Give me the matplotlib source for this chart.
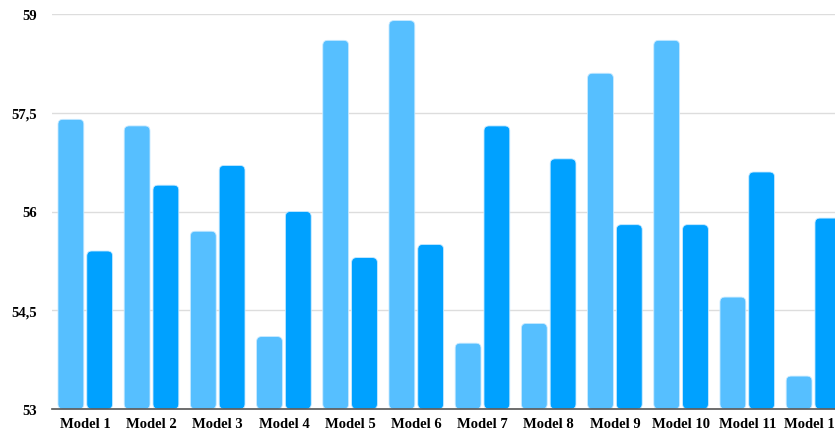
import matplotlib
matplotlib.use("Agg")
import matplotlib.pyplot as plt
from matplotlib.patches import FancyBboxPatch
from matplotlib.ticker import FixedLocator, FuncFormatter
import numpy as np

models = [f"Model {i}" for i in range(1, 13)]
series_a = [57.4, 57.3, 55.7, 54.1, 58.6, 58.9, 54.0, 54.3, 58.1, 58.6, 54.7, 53.5]
series_b = [55.4, 56.4, 56.7, 56.0, 55.3, 55.5, 57.3, 56.8, 55.8, 55.8, 56.6, 55.9]
y_ticks = [53, 54.5, 56, 57.5, 59]

color_a = "#56BFFF"
color_b = "#00A1FF"

W, H, DPI = 835, 435, 100
fig = plt.figure(figsize=(W / DPI, H / DPI), dpi=DPI)
ax = fig.add_axes([52 / W, 25 / H, (W - 52) / W, 395 / H])

x = np.arange(len(models))
bw = 0.39
off = 0.2175
bars_a = ax.bar(x - off, np.array(series_a) - 53, bottom=53, width=bw, color=color_a)
bars_b = ax.bar(x + off, np.array(series_b) - 53, bottom=53, width=bw, color=color_b)

# swap plain rectangles for rounded ones
for bars, col in ((bars_a, color_a), (bars_b, color_b)):
    for r in bars:
        r.set_visible(False)
        fb = FancyBboxPatch((r.get_x(), r.get_y()), r.get_width(), r.get_height(),
                            boxstyle="round,pad=0,rounding_size=0.075",
                            mutation_aspect=1.0, facecolor=col,
                            edgecolor="#C8EAFF", linewidth=0.6, zorder=3)
        ax.add_patch(fb)

ax.set_xlim(-0.503, 11.325)
ax.set_ylim(53, 59)
ax.yaxis.set_major_locator(FixedLocator(y_ticks))
ax.yaxis.set_major_formatter(FuncFormatter(
    lambda v, p: (f"{v:g}").replace(".", ",")))
ax.set_xticks(x)
ax.set_xticklabels(models)

font = dict(family="Liberation Serif", weight="bold", size=10.5)
for lab in ax.get_xticklabels() + ax.get_yticklabels():
    lab.set_fontfamily(font["family"])
    lab.set_fontweight(font["weight"])
    lab.set_fontsize(font["size"])

ax.tick_params(axis="both", length=0)
ax.tick_params(axis="y", pad=11)
ax.tick_params(axis="x", pad=6)
ax.grid(axis="y", color="#DDDDDD", linewidth=1, zorder=0)
ax.set_axisbelow(True)
for s in ("top", "right", "left"):
    ax.spines[s].set_visible(False)
ax.spines["bottom"].set_color("#555555")
ax.spines["bottom"].set_linewidth(1.2)
ax.spines["bottom"].set_zorder(4)

fig.savefig("out.png", dpi=DPI)
